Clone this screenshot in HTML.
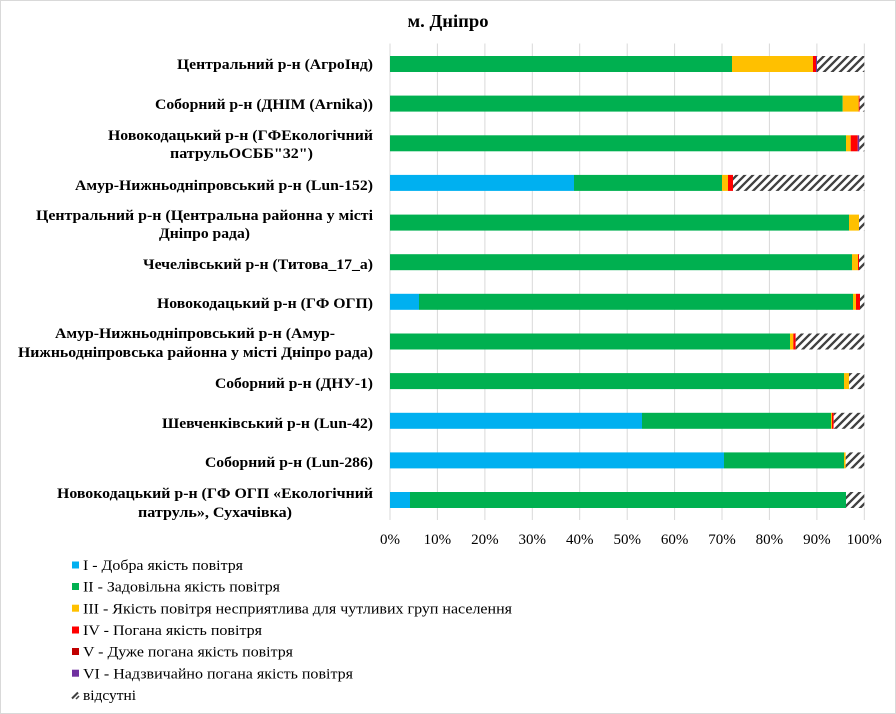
<!DOCTYPE html>
<html><head><meta charset="utf-8"><style>
html,body{margin:0;padding:0;background:#fff;}
svg{display:block;}
.lb{font-family:"Liberation Serif","DejaVu Serif",serif;font-weight:bold;font-size:15px;fill:#000;}
.tk{font-family:"Liberation Serif","DejaVu Serif",serif;font-size:15px;fill:#000;}
.lg{font-family:"Liberation Serif","DejaVu Serif",serif;font-size:15px;fill:#000;}
</style></head><body>
<svg width="896" height="714" viewBox="0 0 896 714" xmlns="http://www.w3.org/2000/svg">
<defs>
<pattern id="h" patternUnits="userSpaceOnUse" width="8" height="8">
<rect width="8" height="8" fill="#fff"/>
<path d="M-2,2 L2,-2 M0,8 L8,0 M6,10 L10,6" stroke="#404040" stroke-width="2.3"/>
</pattern>
</defs>
<rect x="0.5" y="0.5" width="895" height="713" fill="#fff" stroke="#d9d9d9"/>
<text x="448" y="27" text-anchor="middle" font-family="Liberation Serif, serif" font-weight="bold" font-size="17.5" textLength="81" lengthAdjust="spacingAndGlyphs">м. Дніпро</text>
<g stroke="#d9d9d9" stroke-width="1">
<line x1="390" y1="43.5" x2="390" y2="520"/>
<line x1="437.4" y1="43.5" x2="437.4" y2="520"/>
<line x1="484.9" y1="43.5" x2="484.9" y2="520"/>
<line x1="532.3" y1="43.5" x2="532.3" y2="520"/>
<line x1="579.7" y1="43.5" x2="579.7" y2="520"/>
<line x1="627.2" y1="43.5" x2="627.2" y2="520"/>
<line x1="674.6" y1="43.5" x2="674.6" y2="520"/>
<line x1="722" y1="43.5" x2="722" y2="520"/>
<line x1="769.4" y1="43.5" x2="769.4" y2="520"/>
<line x1="816.9" y1="43.5" x2="816.9" y2="520"/>
<line x1="864.3" y1="43.5" x2="864.3" y2="520"/>
</g>
<g>
<rect x="390" y="56" width="342" height="16" fill="#00B050"/>
<rect x="732" y="56" width="81" height="16" fill="#FFC000"/>
<rect x="813" y="56" width="3" height="16" fill="#FF0000"/>
<rect x="816" y="56" width="1" height="16" fill="#7030A0"/>
<rect x="817" y="56" width="47.3" height="16" fill="url(#h)"/>
<rect x="390" y="95.6" width="452.7" height="16" fill="#00B050"/>
<rect x="842.7" y="95.6" width="16" height="16" fill="#FFC000"/>
<rect x="858.7" y="95.6" width="0.8" height="16" fill="#FF0000"/>
<rect x="859.5" y="95.6" width="4.8" height="16" fill="url(#h)"/>
<rect x="390" y="135.3" width="456" height="16" fill="#00B050"/>
<rect x="846" y="135.3" width="4.7" height="16" fill="#FFC000"/>
<rect x="850.7" y="135.3" width="7" height="16" fill="#FF0000"/>
<rect x="857.7" y="135.3" width="1.6" height="16" fill="#7030A0"/>
<rect x="859.3" y="135.3" width="5" height="16" fill="url(#h)"/>
<rect x="390" y="174.9" width="184" height="16" fill="#00B0F0"/>
<rect x="574" y="174.9" width="148" height="16" fill="#00B050"/>
<rect x="722" y="174.9" width="6" height="16" fill="#FFC000"/>
<rect x="728" y="174.9" width="5" height="16" fill="#FF0000"/>
<rect x="733" y="174.9" width="131.3" height="16" fill="url(#h)"/>
<rect x="390" y="214.6" width="459" height="16" fill="#00B050"/>
<rect x="849" y="214.6" width="10" height="16" fill="#FFC000"/>
<rect x="859" y="214.6" width="5.3" height="16" fill="url(#h)"/>
<rect x="390" y="254.2" width="462" height="16" fill="#00B050"/>
<rect x="852" y="254.2" width="6" height="16" fill="#FFC000"/>
<rect x="858" y="254.2" width="1" height="16" fill="#FF0000"/>
<rect x="859" y="254.2" width="5.3" height="16" fill="url(#h)"/>
<rect x="390" y="293.8" width="29" height="16" fill="#00B0F0"/>
<rect x="419" y="293.8" width="434" height="16" fill="#00B050"/>
<rect x="853" y="293.8" width="3" height="16" fill="#FFC000"/>
<rect x="856" y="293.8" width="4" height="16" fill="#FF0000"/>
<rect x="860" y="293.8" width="4.3" height="16" fill="url(#h)"/>
<rect x="390" y="333.5" width="400" height="16" fill="#00B050"/>
<rect x="790" y="333.5" width="3.3" height="16" fill="#FFC000"/>
<rect x="793.3" y="333.5" width="2.4" height="16" fill="#FF0000"/>
<rect x="795.7" y="333.5" width="68.6" height="16" fill="url(#h)"/>
<rect x="390" y="373.1" width="454" height="16" fill="#00B050"/>
<rect x="844" y="373.1" width="5" height="16" fill="#FFC000"/>
<rect x="849" y="373.1" width="15.3" height="16" fill="url(#h)"/>
<rect x="390" y="412.8" width="252" height="16" fill="#00B0F0"/>
<rect x="642" y="412.8" width="189" height="16" fill="#00B050"/>
<rect x="831" y="412.8" width="1" height="16" fill="#FFC000"/>
<rect x="832" y="412.8" width="1.7" height="16" fill="#FF0000"/>
<rect x="833.7" y="412.8" width="30.6" height="16" fill="url(#h)"/>
<rect x="390" y="452.4" width="334" height="16" fill="#00B0F0"/>
<rect x="724" y="452.4" width="120" height="16" fill="#00B050"/>
<rect x="844" y="452.4" width="1.7" height="16" fill="#FFC000"/>
<rect x="845.7" y="452.4" width="18.6" height="16" fill="url(#h)"/>
<rect x="390" y="492" width="20" height="16" fill="#00B0F0"/>
<rect x="410" y="492" width="436" height="16" fill="#00B050"/>
<rect x="846" y="492" width="18.3" height="16" fill="url(#h)"/>
</g>
<g class="lb">
<text x="373" y="69" text-anchor="end" textLength="196" lengthAdjust="spacingAndGlyphs">Центральний р-н (АгроІнд)</text>
<text x="373" y="109" text-anchor="end" textLength="218" lengthAdjust="spacingAndGlyphs">Соборний р-н (ДНІМ (Arnika))</text>
<text x="240.5" y="140" text-anchor="middle" textLength="265" lengthAdjust="spacingAndGlyphs">Новокодацький р-н (ГФЕкологічний</text>
<text x="241.5" y="158" text-anchor="middle" textLength="143" lengthAdjust="spacingAndGlyphs">патрульОСББ"32")</text>
<text x="373" y="190" text-anchor="end" textLength="298" lengthAdjust="spacingAndGlyphs">Амур-Нижньодніпровський  р-н (Lun-152)</text>
<text x="204.5" y="220" text-anchor="middle" textLength="337" lengthAdjust="spacingAndGlyphs">Центральний р-н (Центральна районна у місті</text>
<text x="204.5" y="238" text-anchor="middle" textLength="91" lengthAdjust="spacingAndGlyphs">Дніпро рада)</text>
<text x="373" y="269" text-anchor="end" textLength="230" lengthAdjust="spacingAndGlyphs">Чечелівський р-н (Титова_17_а)</text>
<text x="373" y="308" text-anchor="end" textLength="216" lengthAdjust="spacingAndGlyphs">Новокодацький р-н (ГФ ОГП)</text>
<text x="195" y="338" text-anchor="middle" textLength="280" lengthAdjust="spacingAndGlyphs">Амур-Нижньодніпровський  р-н (Амур-</text>
<text x="195.5" y="357" text-anchor="middle" textLength="355" lengthAdjust="spacingAndGlyphs">Нижньодніпровська районна у місті Дніпро рада)</text>
<text x="373" y="388" text-anchor="end" textLength="158" lengthAdjust="spacingAndGlyphs">Соборний р-н (ДНУ-1)</text>
<text x="373" y="428" text-anchor="end" textLength="211" lengthAdjust="spacingAndGlyphs">Шевченківський р-н (Lun-42)</text>
<text x="373" y="467" text-anchor="end" textLength="168" lengthAdjust="spacingAndGlyphs">Соборний р-н (Lun-286)</text>
<text x="215" y="498" text-anchor="middle" textLength="316" lengthAdjust="spacingAndGlyphs">Новокодацький р-н (ГФ ОГП «Екологічний</text>
<text x="215" y="517" text-anchor="middle" textLength="154" lengthAdjust="spacingAndGlyphs">патруль», Сухачівка)</text>
</g>
<g class="tk" text-anchor="middle">
<text x="390" y="544">0%</text>
<text x="437.4" y="544">10%</text>
<text x="484.9" y="544">20%</text>
<text x="532.3" y="544">30%</text>
<text x="579.7" y="544">40%</text>
<text x="627.2" y="544">50%</text>
<text x="674.6" y="544">60%</text>
<text x="722" y="544">70%</text>
<text x="769.4" y="544">80%</text>
<text x="816.9" y="544">90%</text>
<text x="864.3" y="544">100%</text>
</g>
<g>
<rect x="72" y="561.5" width="7" height="7" fill="#00B0F0"/>
<rect x="72" y="583" width="7" height="7" fill="#00B050"/>
<rect x="72" y="604.7" width="7" height="7" fill="#FFC000"/>
<rect x="72" y="626.5" width="7" height="7" fill="#FF0000"/>
<rect x="72" y="648" width="7" height="7" fill="#C00000"/>
<rect x="72" y="669.7" width="7" height="7" fill="#7030A0"/>
<path d="M72,698.5 L78,692.5" stroke="#404040" stroke-width="2"/>
<path d="M76,699 L79,696" stroke="#404040" stroke-width="1.5"/>
</g>
<g class="lg">
<text x="83" y="570" textLength="160" lengthAdjust="spacingAndGlyphs">I - Добра якість  повітря</text>
<text x="83" y="591.7" textLength="197" lengthAdjust="spacingAndGlyphs">II - Задовільна якість  повітря</text>
<text x="83" y="613.3" textLength="429" lengthAdjust="spacingAndGlyphs">III - Якість  повітря  несприятлива для чутливих груп  населення</text>
<text x="83" y="635" textLength="179" lengthAdjust="spacingAndGlyphs">IV - Погана якість  повітря</text>
<text x="83" y="656.7" textLength="210" lengthAdjust="spacingAndGlyphs">V - Дуже погана якість  повітря</text>
<text x="83" y="678.3" textLength="270" lengthAdjust="spacingAndGlyphs">VI - Надзвичайно погана якість  повітря</text>
<text x="83" y="700" textLength="53" lengthAdjust="spacingAndGlyphs">відсутні</text>
</g>
</svg>
</body></html>
